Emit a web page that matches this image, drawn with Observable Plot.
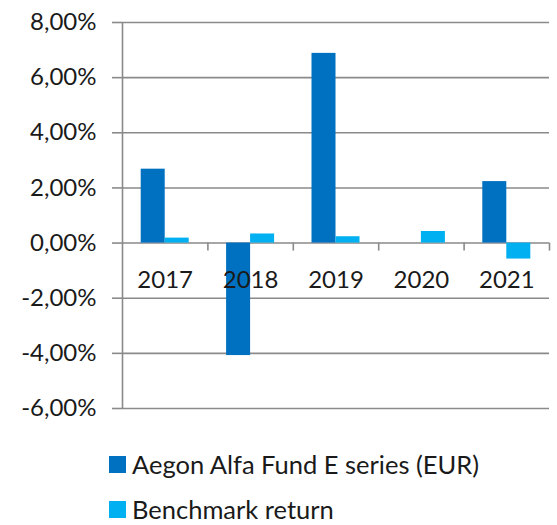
<!DOCTYPE html>
<html><head><meta charset="utf-8">
<script src="https://cdn.jsdelivr.net/npm/d3@7"></script>
<script src="https://cdn.jsdelivr.net/npm/@observablehq/plot@0.6"></script>
<style>
body{margin:0;background:#fff;font-family:Lato, "Open Sans", sans-serif;overflow:hidden;}
#chart svg{display:block;}
#legend{position:relative;height:85px;width:557px;}
.item{position:absolute;left:109px;display:flex;align-items:center;font-size:25.5px;color:#1a1a1a;line-height:1;}
.sw{width:17px;height:17px;margin-right:6px;flex:none;}
</style></head><body><div id="chart"></div><div id="legend"></div>
<script>
const years = ["2017", "2018", "2019", "2020", "2021"];
const fundReturns = [2.68, -4.08, 6.88, 0, 2.23];
const benchmarkReturns = [0.18, 0.33, 0.23, 0.42, -0.58];
const seriesNames = ["Aegon Alfa Fund E series (EUR)", "Benchmark return"];
const seriesColors = ["#0070C0", "#00B0F0"];
const yTicks = [-6, -4, -2, 0, 2, 4, 6, 8];

const fundRows = years.map((year, i) => ({year, i, value: fundReturns[i]}));
const benchRows = years.map((year, i) => ({year, i, value: benchmarkReturns[i]}));
const fmt = d => d.toFixed(2).replace(".", ",") + "%";
const gridColor = "#8a8a8a";

const chart = Plot.plot({
  width: 557,
  height: 440,
  marginLeft: 122,
  marginRight: 8,
  marginTop: 22,
  marginBottom: 32,
  style: {fontFamily: "Lato, 'Open Sans', sans-serif", background: "#fff", color: "#1a1a1a"},
  x: {domain: [0, years.length], axis: null},
  y: {domain: [d3.min(yTicks), d3.max(yTicks)], axis: null},
  marks: [
    Plot.ruleY(yTicks, {stroke: gridColor, strokeWidth: 1.6}),
    Plot.rect(fundRows, {x1: d => d.i, x2: d => d.i + 1, y1: 0, y2: "value", fill: seriesColors[0], insetLeft: 18.7, insetRight: 42.7}),
    Plot.rect(benchRows, {x1: d => d.i, x2: d => d.i + 1, y1: 0, y2: "value", fill: seriesColors[1], insetLeft: 42.7, insetRight: 18.7}),
    Plot.ruleX([0], {y1: d3.min(yTicks), y2: d3.max(yTicks), stroke: gridColor, strokeWidth: 1.6}),
    Plot.ruleX(d3.range(1, years.length + 1), {y1: 0, y2: 0, insetBottom: -8, stroke: gridColor, strokeWidth: 1.6}),
    Plot.axisY(yTicks, {label: null, tickSize: 10, tickPadding: 16, tickFormat: fmt, fontSize: 24, stroke: gridColor, strokeWidth: 1.6, fill: "#1a1a1a"}),
    Plot.text(fundRows, {x: d => d.i + 0.5, y: 0, text: "year", dy: 37, fontSize: 24, fill: "#1a1a1a"})
  ]
});
document.getElementById("chart").appendChild(chart);

const legend = document.getElementById("legend");
seriesNames.forEach((name, k) => {
  const item = document.createElement("div");
  item.className = "item";
  item.style.top = (12 + k * 45) + "px";
  const sw = document.createElement("span");
  sw.className = "sw";
  sw.style.background = seriesColors[k];
  const t = document.createElement("span");
  t.textContent = name;
  item.appendChild(sw);
  item.appendChild(t);
  legend.appendChild(item);
});
</script>
</body></html>
